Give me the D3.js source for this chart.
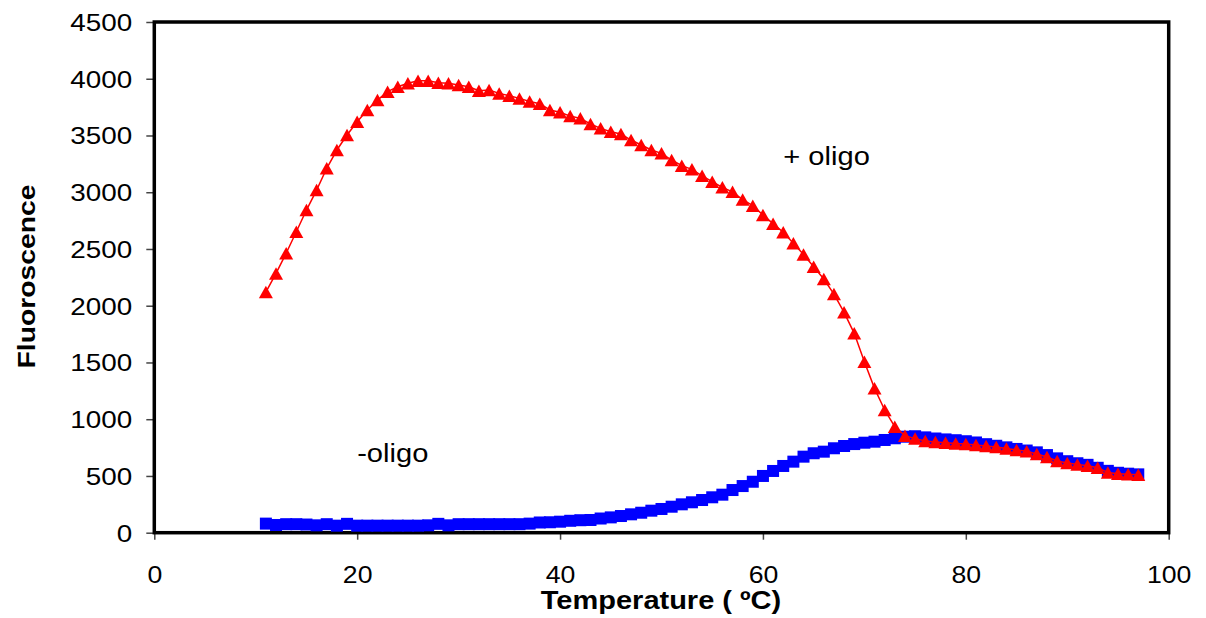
<!DOCTYPE html>
<html>
<head>
<meta charset="utf-8">
<script src="https://cdn.jsdelivr.net/npm/d3@7"></script>
<style>
  html, body { margin: 0; padding: 0; background: #fff; }
  svg { display: block; font-family: "Liberation Sans", Arial, sans-serif; }
</style>
</head>
<body>
<svg id="chart" width="1206" height="618"></svg>
<script>
// Melting curves: fluorescence vs temperature, with and without oligo
const temperature = d3.range(11, 98); // 11 .. 97 °C, 1 degree steps

const plusOligo = [
  2120, 2285, 2462, 2652, 2843, 3019, 3211, 3372, 3504, 3621,
  3724, 3812, 3886, 3930, 3960, 3982, 3982, 3965, 3960, 3944,
  3930, 3895, 3900, 3871, 3850, 3827, 3800, 3780, 3725, 3704,
  3671, 3651, 3601, 3563, 3533, 3513, 3460, 3416, 3372, 3343,
  3284, 3234, 3202, 3145, 3093, 3043, 3004, 2935, 2882, 2799,
  2723, 2648, 2550, 2452, 2344, 2235, 2103, 1942, 1757, 1507,
  1272, 1081, 934, 855, 829, 808, 800, 793, 786, 781,
  773, 764, 755, 742, 729, 718, 693, 667, 632, 614,
  602, 590, 573, 530, 519, 514, 511
];

const minusOligo = [
  80, 68, 75, 75, 72, 65, 75, 62, 78, 62,
  62, 62, 62, 62, 62, 62, 65, 78, 65, 75,
  75, 75, 75, 75, 75, 75, 80, 90, 92, 97,
  105, 110, 112, 125, 135, 147, 162, 176, 194, 209,
  229, 250, 268, 288, 312, 335, 376, 411, 449, 500,
  544, 588, 626, 670, 700, 714, 744, 764, 781, 793,
  802, 817, 832, 846, 850, 840, 830, 822, 815, 806,
  795, 780, 766, 752, 738, 724, 708, 684, 655, 630,
  612, 598, 572, 545, 528, 520, 514
];

const xTicks = [0, 20, 40, 60, 80, 100];
const yTicks = [0, 500, 1000, 1500, 2000, 2500, 3000, 3500, 4000, 4500];

const svg = d3.select("#chart");

const plot = { left: 154.3, right: 1168.7, top: 22, bottom: 532.7 };

const x = d3.scaleLinear().domain([0, 100]).range([plot.left, plot.right]);
const y = d3.scaleLinear().domain([0, 4500]).range([plot.bottom, plot.top]);

// Axes (ticks and labels); the frame is drawn separately
const yAxis = svg.append("g")
  .attr("transform", `translate(${plot.left},0)`)
  .call(d3.axisLeft(y).tickValues(yTicks).tickSize(8).tickSizeOuter(0).tickFormat(d3.format("d")));
yAxis.select(".domain").remove();
yAxis.selectAll(".tick line").attr("stroke", "#444").attr("stroke-width", 1.5);
yAxis.selectAll(".tick text")
  .attr("x", null).attr("dy", null)
  .attr("transform", "translate(-22,8.3) scale(1.16,1)")
  .attr("text-anchor", "end")
  .attr("fill", "#000")
  .style("font-size", "24px")
  .style("font-family", "'Liberation Sans', Arial, sans-serif");

const xAxis = svg.append("g")
  .attr("transform", `translate(0,${plot.bottom})`)
  .call(d3.axisBottom(x).tickValues(xTicks).tickSize(7).tickSizeOuter(0).tickFormat(d3.format("d")));
xAxis.select(".domain").remove();
xAxis.selectAll(".tick line").attr("stroke", "#444").attr("stroke-width", 1.5);
xAxis.selectAll(".tick text")
  .attr("y", null).attr("dy", null)
  .attr("transform", "translate(0,50) scale(1.11,1)")
  .attr("text-anchor", "middle")
  .attr("fill", "#000")
  .style("font-size", "24px")
  .style("font-family", "'Liberation Sans', Arial, sans-serif");

// Plot frame
svg.append("rect")
  .attr("x", plot.left).attr("y", plot.top)
  .attr("width", plot.right - plot.left).attr("height", plot.bottom - plot.top)
  .attr("fill", "none").attr("stroke", "#000").attr("stroke-width", 3.5);

const line = d3.line().x(d => x(d[0])).y(d => y(d[1]));

// -oligo series: blue squares
const blueData = temperature.map((t, i) => [t, minusOligo[i]]);
svg.append("path").datum(blueData)
  .attr("d", line).attr("fill", "none").attr("stroke", "#0000FF").attr("stroke-width", 1.5);
const sq = 12;
svg.append("g").selectAll("rect").data(blueData).join("rect")
  .attr("x", d => x(d[0]) - sq / 2).attr("y", d => y(d[1]) - sq / 2)
  .attr("width", sq).attr("height", sq)
  .attr("fill", "#0000FF");

// +oligo series: red triangles
const redData = temperature.map((t, i) => [t, plusOligo[i]]);
svg.append("path").datum(redData)
  .attr("d", line).attr("fill", "none").attr("stroke", "#FF0000").attr("stroke-width", 1.5);
const tw = 14, th = 12.5;
svg.append("g").selectAll("path").data(redData).join("path")
  .attr("d", d => {
    const cx = x(d[0]), cy = y(d[1]);
    return `M${cx},${cy - th / 2}L${cx + tw / 2},${cy + th / 2}L${cx - tw / 2},${cy + th / 2}Z`;
  })
  .attr("fill", "#FF0000");

// Series annotations
function label(tx, ty, text, size, sx, weight) {
  return svg.append("text")
    .attr("transform", `translate(${tx},${ty}) scale(${sx},1)`)
    .style("font-size", size + "px")
    .style("font-weight", weight || "normal")
    .attr("fill", "#000")
    .text(text);
}
label(x(62), y(3240), "+ oligo", 26, 1.12);
label(x(20), y(625), "-oligo", 26, 1.12);

// Axis titles
label(661, 609.3, "Temperature ( \u00BAC)", 25, 1.16, "bold").attr("text-anchor", "middle");
svg.append("text")
  .attr("transform", `translate(35,276.5) rotate(-90) scale(1.18,1)`)
  .attr("text-anchor", "middle")
  .style("font-size", "24px")
  .style("font-weight", "bold")
  .attr("fill", "#000")
  .text("Fluoroscence");
</script>
</body>
</html>
